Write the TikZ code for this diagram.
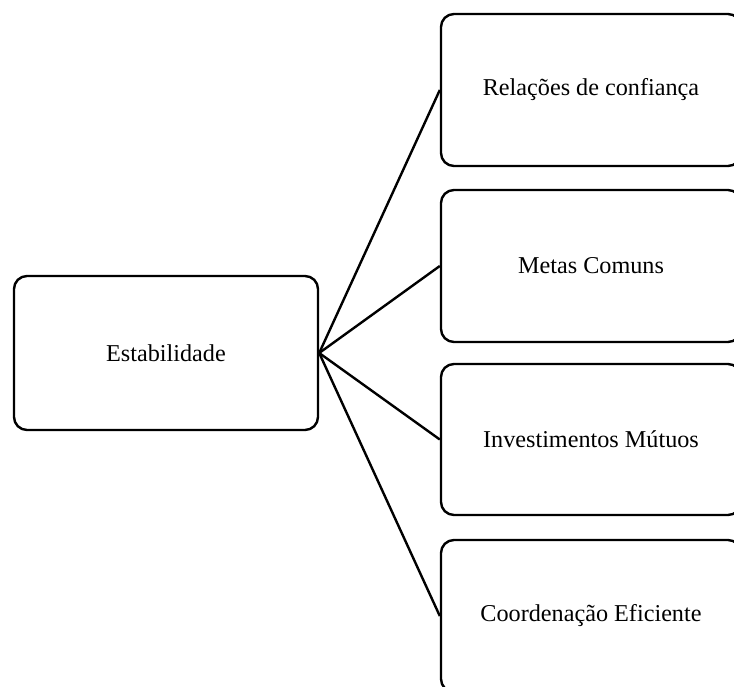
\documentclass[tikz,border=0pt]{standalone}
\usepackage{fontspec}
\setmainfont{Liberation Serif}
\begin{document}
\begin{tikzpicture}[x=1pt,y=-1pt,
  box/.style={draw, line width=2.4pt, rounded corners=13pt,
    minimum width=300pt, minimum height=152pt, inner sep=0pt,
    font=\fontsize{24.2}{29}\selectfont},
  link/.style={line width=2.4pt}]
\useasboundingbox (0,0) rectangle (734,687);
\begin{scope}
  \clip (0,0) rectangle (734,687);
  % central node
  \node[box, minimum width=304pt, minimum height=154pt] (hub) at (166,353) {Estabilidade};
  % branches (running off the right edge)
  \node[box] (b1) at (591,90)    {Relações de confiança};
  \node[box] (b2) at (591,266)   {Metas Comuns};
  \node[box, minimum height=151pt] (b3) at (591,439.5) {Investimentos Mútuos};
  \node[box] (b4) at (591,616)   {Coordenação Eficiente};
  % connectors
  \foreach \b in {b1,b2,b3,b4}
    \draw[link] (hub.east) -- (\b.west);
\end{scope}
\end{tikzpicture}
\end{document}
